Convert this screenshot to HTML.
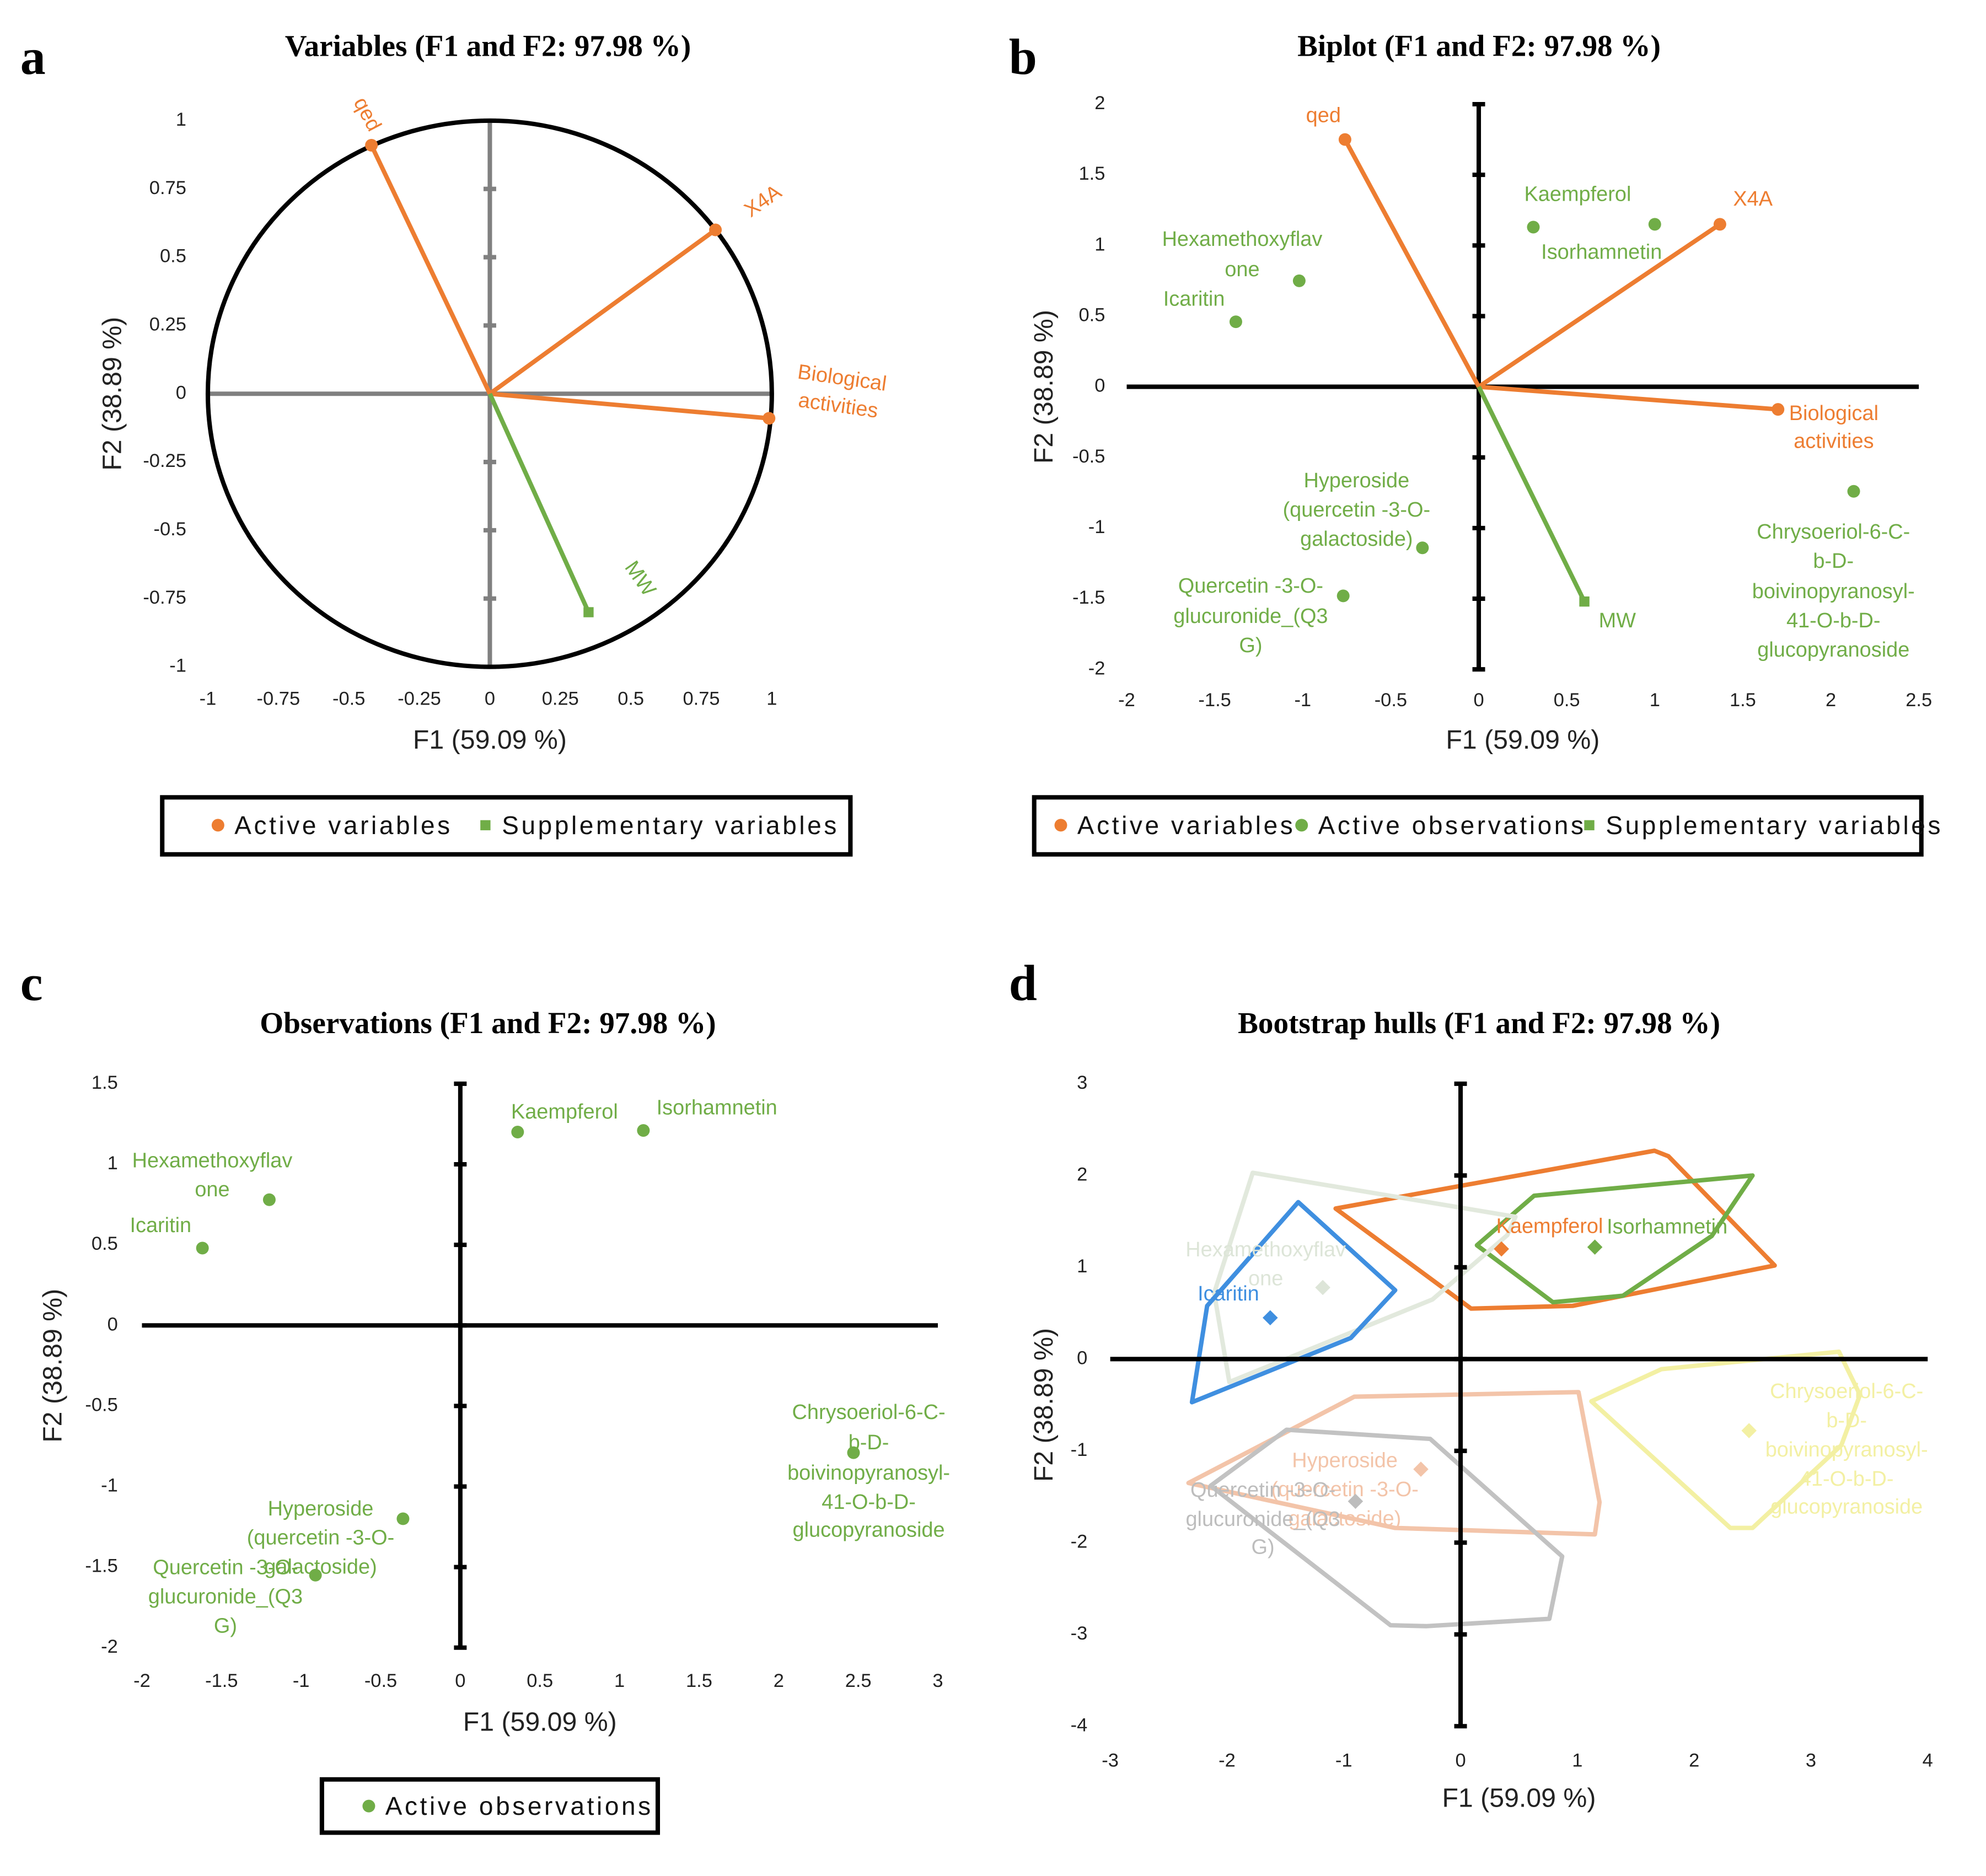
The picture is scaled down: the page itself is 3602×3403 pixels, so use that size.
<!DOCTYPE html>
<html><head><meta charset="utf-8"><title>PCA panels</title>
<style>
html,body{margin:0;padding:0;background:#fff;}
svg{display:block;}
text{font-family:"Liberation Sans",sans-serif;}
.ttl{font-family:"Liberation Serif",serif;font-weight:bold;font-size:24px;}
.let{font-family:"Liberation Serif",serif;font-weight:bold;font-size:40px;}
.tick{font-size:15px;fill:#222;}
.axt{font-size:21px;fill:#222;}
.leg{font-size:20px;letter-spacing:2px;fill:#111;}
.lab{font-size:16.5px;}
</style></head>
<body>
<svg id="chart" xmlns="http://www.w3.org/2000/svg" width="3602" height="3403" viewBox="0 0 1567 1480">
<rect x="0" y="0" width="1567" height="1480" fill="#fff"/>
<text class="let" x="16" y="58">a</text>
<text class="let" x="796" y="58">b</text>
<text class="let" x="16" y="789">c</text>
<text class="let" x="796" y="789">d</text>
<text class="ttl" x="385" y="44" text-anchor="middle">Variables (F1 and F2: 97.98 %)</text>
<text class="ttl" x="1167" y="44" text-anchor="middle">Biplot (F1 and F2: 97.98 %)</text>
<text class="ttl" x="385" y="815" text-anchor="middle">Observations (F1 and F2: 97.98 %)</text>
<text class="ttl" x="1167" y="815" text-anchor="middle">Bootstrap hulls (F1 and F2: 97.98 %)</text>

<g>
<rect x="128" y="629" width="543" height="45" fill="none" stroke="#000" stroke-width="3.5"/>
<circle cx="172" cy="651" r="5" fill="#ed7d31"/>
<text class="leg" x="185" y="658">Active variables</text>
<rect x="379" y="647" width="8" height="8" fill="#70ad47"/>
<text class="leg" x="396" y="658">Supplementary variables</text>
</g>
<g>
<rect x="816" y="629" width="700" height="45" fill="none" stroke="#000" stroke-width="3.5"/>
<circle cx="837" cy="651" r="5" fill="#ed7d31"/>
<text class="leg" x="850" y="658">Active variables</text>
<circle cx="1027" cy="651" r="5" fill="#70ad47"/>
<text class="leg" x="1040" y="658">Active observations</text>
<rect x="1250" y="647" width="8" height="8" fill="#70ad47"/>
<text class="leg" x="1267" y="658">Supplementary variables</text>
</g>
<g>
<rect x="254" y="1404" width="265" height="42" fill="none" stroke="#000" stroke-width="3.5"/>
<circle cx="291" cy="1425" r="5" fill="#70ad47"/>
<text class="leg" x="304" y="1432">Active observations</text>
</g>
</svg>
<script>
const obsNames=["Kaempferol","Isorhamnetin","Hexamethoxyflavone","Icaritin","Hyperoside","Quercetin","Chrysoeriol"];
const obsLines=[["Kaempferol"],["Isorhamnetin"],["Hexamethoxyflav","one"],["Icaritin"],["Hyperoside","(quercetin -3-O-","galactoside)"],["Quercetin -3-O-","glucuronide_(Q3","G)"],["Chrysoeriol-6-C-","b-D-","boivinopyranosyl-","41-O-b-D-","glucopyranoside"]];
const obsF1B=[0.31,1.0,-1.02,-1.38,-0.32,-0.77,2.13];
const obsF2B=[1.13,1.15,0.75,0.46,-1.14,-1.48,-0.74];
const obsF1C=[0.36,1.15,-1.2,-1.62,-0.36,-0.91,2.47];
const obsF2C=[1.2,1.21,0.78,0.48,-1.2,-1.55,-0.79];
const obsF1D=[0.35,1.15,-1.18,-1.63,-0.34,-0.9,2.47];
const obsF2D=[1.2,1.22,0.78,0.45,-1.2,-1.55,-0.78];
const varNames=["qed","X4A","Biological activities","MW"];
const varF1A=[-0.42,0.8,0.99,0.35];
const varF2A=[0.91,0.6,-0.09,-0.8];
const varF1B=[-0.76,1.37,1.7,0.6];
const varF2B=[1.75,1.15,-0.16,-1.52];
const hullX0=[-1.07,1.66,1.78,2.69,0.96,0.09];
const hullY0=[1.64,2.27,2.21,1.02,0.58,0.55];
const hullX1=[0.14,0.63,2.5,2.15,1.39,0.79];
const hullY1=[1.24,1.78,2.0,1.34,0.69,0.62];
const hullX2=[-1.78,0.47,0.4,-0.24,-1.98,-2.11];
const hullY2=[2.03,1.55,1.35,0.65,-0.25,0.72];
const hullX3=[-1.39,-0.56,-0.94,-2.30,-2.17];
const hullY3=[1.71,0.75,0.23,-0.47,0.58];
const hullX4=[-2.33,-0.91,1.01,1.19,1.15,-0.56];
const hullY4=[-1.35,-0.41,-0.36,-1.56,-1.91,-1.84];
const hullX5=[-2.14,-1.49,-0.26,0.87,0.76,-0.29,-0.6];
const hullY5=[-1.38,-0.77,-0.87,-2.15,-2.83,-2.91,-2.9];
const hullX6=[1.12,1.72,3.24,3.42,3.26,2.5,2.31];
const hullY6=[-0.46,-0.11,0.08,-0.39,-0.94,-1.84,-1.84];
const ticksA=[-1,-0.75,-0.5,-0.25,0,0.25,0.5,0.75,1];
const ticksBx=[-2,-1.5,-1,-0.5,0,0.5,1,1.5,2,2.5];
const ticksBy=[-2,-1.5,-1,-0.5,0,0.5,1,1.5,2];
const ticksCx=[-2,-1.5,-1,-0.5,0,0.5,1,1.5,2,2.5,3];
const ticksCy=[-2,-1.5,-1,-0.5,0,0.5,1,1.5];
const ticksDx=[-3,-2,-1,0,1,2,3,4];
const ticksDy=[-4,-3,-2,-1,0,1,2,3];

const hullsX=[hullX0,hullX1,hullX2,hullX3,hullX4,hullX5,hullX6];
const hullsY=[hullY0,hullY1,hullY2,hullY3,hullY4,hullY5,hullY6];
const hullColors=["#ed7d31","#70ad47","#e2e9dd","#3f8fe0","#f3c4a9","#c2c2c2","#f3f0a3"];
const ORANGE="#ed7d31",GREEN="#70ad47";
const NS="http://www.w3.org/2000/svg";
const svg=document.getElementById('chart');
function mk(tag,attrs,parent){const e=document.createElementNS(NS,tag);for(const k in attrs)e.setAttribute(k,attrs[k]);(parent||svg).appendChild(e);return e;}
function scale(d0,d1,p0,p1){return v=>p0+(v-d0)*(p1-p0)/(d1-d0);}
function fmt(v){return String(v);}

function axes(g,sx,sy,xt,yt,xr,yr,color,width,xLabY,yLabX,xTitleY,yTitleX,tickLen){
  const h=mk('line',{x1:sx(xr[0]),x2:sx(xr[1]),y1:sy(0),y2:sy(0),stroke:color,'stroke-width':width},g);
  
  
  const v=mk('line',{x1:sx(0),x2:sx(0),y1:sy(yr[0]),y2:sy(yr[1]),stroke:color,'stroke-width':width},g);
  
  
  yt.forEach(t=>{
    const m=mk('line',{x1:sx(0)-tickLen,x2:sx(0)+tickLen,y1:sy(t),y2:sy(t),stroke:color,'stroke-width':width},g);
    
    
    const l=mk('text',{x:yLabX,y:sy(t),'text-anchor':'end','dominant-baseline':'middle',class:'tick'},g);
    l.textContent=fmt(t);
    
    
  });
  xt.forEach(t=>{
    const l=mk('text',{x:sx(t),y:xLabY,'text-anchor':'middle','dominant-baseline':'middle',class:'tick'},g);
    l.textContent=fmt(t);
    
    
  });
  const xtT=mk('text',{x:(sx(xr[0])+sx(xr[1]))/2,y:xTitleY,'text-anchor':'middle','dominant-baseline':'middle',class:'axt'},g);
  xtT.textContent='F1 (59.09 %)';
  
  
  const cy=(sy(yr[0])+sy(yr[1]))/2;
  const ytT=mk('text',{x:yTitleX,y:cy,'text-anchor':'middle','dominant-baseline':'middle',class:'axt',transform:`rotate(-90 ${yTitleX} ${cy})`},g);
  ytT.textContent='F2 (38.89 %)';
  
  
}
function label(g,x,y,lines,dx,dys,color,anchor){
  lines.forEach((s,i)=>{
    const t=mk('text',{x:x+dx,y:y+dys[i],fill:color,'text-anchor':anchor||'middle','dominant-baseline':'middle',class:'lab'},g);
    t.textContent=s;
    
    
  });
}

/* Panel a */
(function(){
  const g=mk('g',{});
  
  
  const sx=scale(-1,1,164,609), sy=scale(-1,1,526,95);
  axes(g,sx,sy,ticksA,ticksA,[-1,1],[-1,1],'#808080',3.5,552,147,585,90,0);
  ticksA.forEach(t=>{if(t===0)return;
    const m=mk('line',{x1:sx(0)-5,x2:sx(0)+5,y1:sy(t),y2:sy(t),stroke:'#808080','stroke-width':3.5},g);
    
    });
  const c=mk('ellipse',{cx:sx(0),cy:sy(0),rx:sx(1)-sx(0),ry:sy(0)-sy(1),fill:'none',stroke:'#000','stroke-width':3.5},g);
  
  
  const rots=[62,-35,8,55];
  const lo=[[-4,-24],[38,-22],[56,-20],[40,-26]];
  varNames.forEach((n,i)=>{
    const col=i===3?GREEN:ORANGE;
    const ln=mk('line',{x1:sx(0),y1:sy(0),x2:sx(varF1A[i]),y2:sy(varF2A[i]),stroke:col,'stroke-width':3.5},g);
    
    
    let p;
    if(i===3){p=mk('rect',{x:sx(varF1A[i])-4,y:sy(varF2A[i])-4,width:8,height:8,fill:col},g);}
    else{p=mk('circle',{cx:sx(varF1A[i]),cy:sy(varF2A[i]),r:5,fill:col},g);}
    
    
    const lx=sx(varF1A[i])+lo[i][0], ly=sy(varF2A[i])+lo[i][1];
    const t=mk('text',{x:lx,y:ly,fill:col,'text-anchor':'middle','dominant-baseline':'middle',class:'lab',transform:`rotate(${rots[i]} ${lx} ${ly})`},g);
    if(i===2){
      const a=mk('tspan',{x:lx,dy:-11},t);a.textContent='Biological';
      const b=mk('tspan',{x:lx,dy:22},t);b.textContent='activities';
    } else t.textContent=n;
    
    
  });
})();

/* Panel b */
(function(){
  const g=mk('g',{});
  
  
  const sx=scale(-2,2.5,889,1514), sy=scale(-2,2,528,82);
  axes(g,sx,sy,ticksBx,ticksBy,[-2,2.5],[-2,2],'#000',3.5,553,872,585,825,5);
  const vOff=[[-17,[-18]],[26,[-19]],[44,[4,26]],[26,[16]]];
  const vLines=[["qed"],["X4A"],["Biological","activities"],["MW"]];
  varNames.forEach((n,i)=>{
    const col=i===3?GREEN:ORANGE;
    const ln=mk('line',{x1:sx(0),y1:sy(0),x2:sx(varF1B[i]),y2:sy(varF2B[i]),stroke:col,'stroke-width':3.5},g);
    
    
    let p;
    if(i===3){p=mk('rect',{x:sx(varF1B[i])-4,y:sy(varF2B[i])-4,width:8,height:8,fill:col},g);}
    else{p=mk('circle',{cx:sx(varF1B[i]),cy:sy(varF2B[i]),r:5,fill:col},g);}
    
    
    label(g,sx(varF1B[i]),sy(varF2B[i]),vLines[i],vOff[i][0],vOff[i][1],col);
  });
  const oOff=[[35,[-25]],[-42,[23]],[-45,[-32,-8]],[-33,[-17]],[-52,[-52,-29,-6]],[-73,[-7,17,40]],[-16,[33,56,80,103,126]]];
  obsNames.forEach((n,i)=>{
    const p=mk('circle',{cx:sx(obsF1B[i]),cy:sy(obsF2B[i]),r:5,fill:GREEN},g);
    
    
    label(g,sx(obsF1B[i]),sy(obsF2B[i]),obsLines[i],oOff[i][0],oOff[i][1],GREEN);
  });
})();

/* Panel c */
(function(){
  const g=mk('g',{});
  
  
  const sx=scale(-2,3,112,740), sy=scale(-2,1.5,1300,855);
  axes(g,sx,sy,ticksCx,ticksCy,[-2,3],[-2,1.5],'#000',3.5,1327,93,1360,43,5);
  const oOff=[[37,[-15]],[58,[-17]],[-45,[-30,-7]],[-33,[-17]],[-65,[-7,16,39]],[-71,[-5,18,41]],[12,[-31,-7,17,40,62]]];
  obsNames.forEach((n,i)=>{
    const p=mk('circle',{cx:sx(obsF1C[i]),cy:sy(obsF2C[i]),r:5,fill:GREEN},g);
    
    
    label(g,sx(obsF1C[i]),sy(obsF2C[i]),obsLines[i],oOff[i][0],oOff[i][1],GREEN);
  });
})();

/* Panel d */
(function(){
  const g=mk('g',{});
  
  
  const sx=scale(-3,4,876,1521), sy=scale(-4,3,1362,855);
  hullsX.forEach((hx,i)=>{
    const pts=hx.map((x,j)=>sx(x)+','+sy(hullsY[i][j])).join(' ');
    const h=mk('polygon',{points:pts,fill:'none',stroke:hullColors[i],'stroke-width':3.5,'stroke-linejoin':'round'},g);
    
    
  });
  axes(g,sx,sy,ticksDx,ticksDy,[-3,4],[-4,3],'#000',3.5,1390,858,1420,825,5);
  const labColors=["#ed7d31","#70ad47","#dde5d8","#3f8fe0","#f3c4a9","#bdbdbd","#f3f0a3"];
  const oOff=[[38,[-17]],[57,[-15]],[-45,[-29,-6]],[-33,[-18]],[-60,[-6,17,40]],[-73,[-8,15,37]],[77,[-30,-7,16,39,61]]];
  obsNames.forEach((n,i)=>{
    const x=sx(obsF1D[i]),y=sy(obsF2D[i]);
    const p=mk('polygon',{points:`${x},${y-6} ${x+6},${y} ${x},${y+6} ${x-6},${y}`,fill:labColors[i]},g);
    
    
    label(g,x,y,obsLines[i],oOff[i][0],oOff[i][1],labColors[i]);
  });
})();
</script>
</body></html>
